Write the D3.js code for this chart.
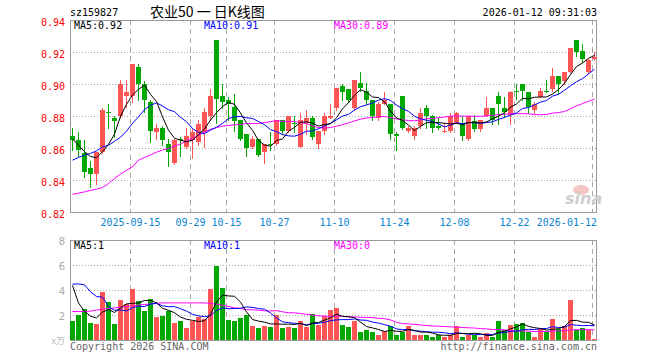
<!DOCTYPE html>
<html><head><meta charset="utf-8">
<script src="https://cdn.jsdelivr.net/npm/d3@7"></script>
<style>body{margin:0;background:#fff}svg{display:block}</style>
</head><body><svg id="c" width="660" height="360"></svg>
<script>
const dates = [
"2025-09-01","2025-09-02","2025-09-03","2025-09-04","2025-09-05","2025-09-08","2025-09-09","2025-09-10","2025-09-11","2025-09-12",
"2025-09-15","2025-09-16","2025-09-17","2025-09-18","2025-09-19","2025-09-22","2025-09-23","2025-09-24","2025-09-25","2025-09-26",
"2025-09-29","2025-09-30","2025-10-09","2025-10-10","2025-10-13","2025-10-14","2025-10-15","2025-10-16","2025-10-17","2025-10-20",
"2025-10-21","2025-10-22","2025-10-23","2025-10-24","2025-10-27","2025-10-28","2025-10-29","2025-10-30","2025-10-31","2025-11-03",
"2025-11-04","2025-11-05","2025-11-06","2025-11-07","2025-11-10","2025-11-11","2025-11-12","2025-11-13","2025-11-14","2025-11-17",
"2025-11-18","2025-11-19","2025-11-20","2025-11-21","2025-11-24","2025-11-25","2025-11-26","2025-11-27","2025-11-28","2025-12-01",
"2025-12-02","2025-12-03","2025-12-04","2025-12-05","2025-12-08","2025-12-09","2025-12-10","2025-12-11","2025-12-12","2025-12-15",
"2025-12-16","2025-12-17","2025-12-18","2025-12-19","2025-12-22","2025-12-23","2025-12-24","2025-12-25","2025-12-26","2025-12-29",
"2025-12-30","2025-12-31","2026-01-05","2026-01-06","2026-01-07","2026-01-08","2026-01-09","2026-01-12"];
const opens = [
.868,.865,.857,.848,.844,.858,.883,.879,.880,.893,
.893,.911,.900,.889,.870,.873,.863,.851,.866,.861,
.865,.864,.870,.880,.928,.893,.890,.886,.878,.869,
.861,.866,.858,.863,.863,.878,.871,.876,.861,.876,
.879,.863,.871,.879,.885,.899,.897,.885,.901,.896,
.890,.879,.888,.888,.869,.893,.871,.868,.874,.885,
.880,.874,.870,.871,.876,.876,.866,.877,.872,.880,
.885,.893,.885,.881,.896,.900,.895,.884,.892,.896,
.897,.905,.902,.908,.928,.921,.908,.916];
const highs = [
.873,.870,.865,.852,.858,.885,.888,.880,.903,.903,
.913,.913,.902,.890,.875,.874,.866,.866,.867,.873,
.872,.878,.885,.897,.928,.900,.892,.894,.878,.869,
.868,.866,.863,.870,.878,.878,.880,.880,.882,.884,
.880,.871,.882,.888,.898,.900,.897,.903,.908,.901,
.890,.889,.895,.888,.870,.893,.874,.874,.885,.887,
.881,.879,.876,.882,.883,.880,.880,.881,.878,.892,
.885,.895,.892,.896,.900,.900,.895,.889,.898,.903,
.910,.905,.908,.923,.928,.925,.916,.920];
const lows = [
.859,.855,.842,.836,.838,.857,.873,.867,.879,.886,
.889,.890,.883,.864,.866,.862,.849,.850,.855,.860,
.854,.862,.861,.878,.876,.885,.878,.871,.865,.855,
.860,.855,.851,.859,.862,.869,.870,.870,.861,.869,
.866,.860,.869,.879,.884,.890,.889,.884,.896,.888,
.878,.878,.888,.866,.859,.872,.870,.866,.873,.873,
.870,.872,.870,.870,.876,.865,.865,.871,.871,.880,
.875,.875,.880,.875,.891,.890,.882,.882,.892,.895,
.896,.894,.900,.907,.918,.914,.907,.915];
const closes = [
.865,.859,.845,.844,.858,.884,.882,.877,.900,.895,
.913,.900,.890,.871,.873,.865,.858,.865,.865,.868,
.870,.875,.883,.893,.891,.889,.888,.877,.866,.860,
.866,.856,.863,.862,.878,.871,.880,.875,.878,.879,
.867,.871,.880,.880,.898,.895,.890,.903,.898,.890,
.880,.888,.890,.869,.868,.873,.873,.873,.882,.880,
.873,.873,.871,.880,.882,.868,.880,.872,.878,.885,
.878,.888,.883,.895,.895,.896,.886,.888,.896,.895,
.905,.900,.908,.923,.920,.916,.915,.917];
const volumes = [
1.60,2.08,2.56,1.44,1.36,3.92,3.12,1.36,3.28,2.96,
4.16,3.20,2.40,3.36,1.92,2.00,2.40,1.44,1.60,1.04,
1.60,1.92,1.76,4.16,6.00,4.24,1.68,1.60,1.84,2.08,
1.20,1.04,1.20,1.12,2.08,1.04,1.12,1.04,1.60,1.12,
2.16,1.28,2.00,2.48,2.64,1.28,1.12,1.60,0.72,0.88,
0.72,0.48,0.80,1.20,0.48,0.72,1.20,0.48,0.48,0.48,
0.32,0.48,0.32,0.48,1.20,0.32,0.40,0.48,0.28,0.56,
0.32,1.60,0.88,1.28,1.36,1.44,0.72,0.32,0.96,0.72,
1.76,0.96,1.20,3.28,0.88,1.04,0.88,0.16];
const ma5Lead = [.866,.862,.858,.855];
const ma10Lead = [.8527,.8544,.8558,.8569,.8585,.861,.862,.8645,.867];
const ma30Lead = [.8313,.8321,.8329,.8338,.8346,.8356,.8381,.8413,.844,.8465,
  .8485,.8527,.8544,.856,.8577,.859,.860,.8615,.8627,.8648,
  .8663,.8683,.8704,.872,.873,.874,.8744,.8748,.875];
const vma5Lead = [4.4,3.0,2.35,1.95];
const vma10Lead = [4.5,4.53,4.45,3.9,3.52,3.47,2.7,2.42,2.45];
const vma30Lead = [2.32,2.32,2.32,2.35,2.43,2.51,2.56,2.61,2.67,2.72,
  2.77,2.83,2.88,2.93,2.99,3.01,3.01,3.01,3.01,3.01,
  3.01,3.01,3.01,2.96,2.91,2.83,2.72,2.61,2.56];
const priceTicks = [0.94,0.92,0.90,0.88,0.86,0.84,0.82];
const volTicks = [8,6,4,2];
const tickDates = ["2025-09-15","2025-09-29","2025-10-15","2025-10-27","2025-11-10","2025-11-24","2025-12-08","2025-12-22","2026-01-12"];
const tickLabels = ["2025-09-15","09-29","10-15","10-27","11-10","11-24","12-08","12-22","2026-01-12"];

const RED = "#ff5555", GREEN = "#00a800", GRID = "#a8a8a8", FRAME = "#999";
const MONO = "'DejaVu Sans Mono', 'Liberation Mono', monospace";
const svg = d3.select("#c");
const L = 70, R = 597;
const x = d3.scaleBand().domain(d3.range(dates.length)).range([69.5, 597.5]).paddingInner(1/6).paddingOuter(1/12);
const cx = i => x(i) + 2.5;
const y = d3.scaleLinear().domain([0.82, 0.94]).range([212.5, 20.5]);
const yv = d3.scaleLinear().domain([0, 8]).range([340.5, 240.5]);

function movingAvg(vals, n, lead) {
  return vals.map((v, i) => i < n - 1 ? lead[i] : d3.mean(vals.slice(i - n + 1, i + 1)));
}
const up = i => closes[i] >= opens[i];

// header
svg.append("text").attr("x", 70).attr("y", 16).attr("font-family", MONO).attr("font-size", 10).attr("fill", "#000").text("sz159827");
svg.append("text").attr("x", 150).attr("y", 17).attr("font-family", "'Noto Sans CJK SC', sans-serif").attr("font-size", 14).attr("fill", "#000").text("农业50 一 日K线图");
svg.append("text").attr("x", 597).attr("y", 16).attr("text-anchor", "end").attr("font-family", MONO).attr("font-size", 10).attr("fill", "#000").text("2026-01-12 09:31:03");

// grids
const g = svg.append("g").attr("shape-rendering", "crispEdges");
priceTicks.slice(1, -1).forEach(t => {
  g.append("line").attr("x1", L).attr("x2", R).attr("y1", y(t)).attr("y2", y(t)).attr("stroke", GRID).attr("stroke-dasharray", "1,2");
});
[2, 4, 6].forEach(t => {
  g.append("line").attr("x1", L).attr("x2", R).attr("y1", yv(t)).attr("y2", yv(t)).attr("stroke", GRID).attr("stroke-dasharray", "1,2");
});
tickDates.forEach(d => {
  const i = dates.indexOf(d);
  const xx = x(i) + 0.5;
  [[20, 212], [240, 340]].forEach(([a, b]) => {
    g.append("line").attr("x1", xx).attr("x2", xx).attr("y1", a).attr("y2", b).attr("stroke", GRID).attr("stroke-dasharray", "5,4");
  });
});

// frames
g.append("rect").attr("x", 70.5).attr("y", 20.5).attr("width", 526).attr("height", 192).attr("fill", "none").attr("stroke", FRAME);
g.append("rect").attr("x", 70.5).attr("y", 240.5).attr("width", 526).attr("height", 100).attr("fill", "none").attr("stroke", FRAME);

// watermark
svg.append("ellipse").attr("cx", 581).attr("cy", 190).attr("rx", 8).attr("ry", 5).attr("fill", "#f2b8b8").attr("opacity", 0.8);
svg.append("text").attr("x", 565).attr("y", 204).attr("font-family", "'DejaVu Sans', sans-serif").attr("font-size", 16).attr("font-weight", "bold").attr("font-style", "italic").attr("fill", "#cfcfcf").text("sina");

// price labels
priceTicks.forEach(t => {
  svg.append("text").attr("x", 65).attr("y", y(t) + 5).attr("text-anchor", "end").attr("font-family", MONO).attr("font-size", 10).attr("fill", "#f00").text(t.toFixed(2));
});
// x labels
tickDates.forEach((d, k) => {
  const i = dates.indexOf(d);
  const lab = tickLabels[k];
  const w = lab.length * 6.02;
  let xx = x(i) + 0.5;
  let anchor = "middle";
  if (xx + w / 2 > R) { xx = R; anchor = "end"; }
  svg.append("text").attr("x", xx).attr("y", 226).attr("text-anchor", anchor).attr("font-family", MONO).attr("font-size", 10).attr("fill", "#0a84d2").text(lab);
});
// volume labels
volTicks.forEach(t => {
  svg.append("text").attr("x", 65).attr("y", yv(t) + 4).attr("text-anchor", "end").attr("font-family", "'DejaVu Sans', sans-serif").attr("font-size", 10).attr("fill", "#aaa").text(t);
});
svg.append("text").attr("x", 65).attr("y", 344).attr("text-anchor", "end").attr("font-family", "'Noto Sans CJK SC', sans-serif").attr("font-size", 9).attr("fill", "#bbb").text("x万");

// candles
const cg = svg.append("g").attr("shape-rendering", "crispEdges");
dates.forEach((d, i) => {
  const col = up(i) ? RED : GREEN;
  cg.append("line").attr("x1", cx(i)).attr("x2", cx(i)).attr("y1", Math.round(y(highs[i])) ).attr("y2", Math.round(y(lows[i])) + 1).attr("stroke", col);
  const top = Math.round(y(Math.max(opens[i], closes[i])));
  const bot = Math.round(y(Math.min(opens[i], closes[i])));
  cg.append("rect").attr("x", x(i)).attr("y", top).attr("width", x.bandwidth()).attr("height", Math.max(1, bot - top)).attr("fill", col);
  // volume
  const vt = Math.round(yv(volumes[i]));
  cg.append("rect").attr("x", x(i)).attr("y", vt).attr("width", x.bandwidth()).attr("height", Math.max(0, 340 - vt)).attr("fill", col);
});

// MA lines
function drawLine(vals, yscale, color) {
  const line = d3.line().x((v, i) => cx(i)).y(v => yscale(v));
  svg.append("path").datum(vals).attr("d", line).attr("fill", "none").attr("stroke", color).attr("stroke-width", 1);
}
drawLine(movingAvg(closes, 30, ma30Lead), y, "#ff00ff");
drawLine(movingAvg(closes, 10, ma10Lead), y, "#0000ff");
drawLine(movingAvg(closes, 5, ma5Lead), y, "#000");
drawLine(movingAvg(volumes, 30, vma30Lead), yv, "#ff00ff");
drawLine(movingAvg(volumes, 10, vma10Lead), yv, "#0000ff");
drawLine(movingAvg(volumes, 5, vma5Lead), yv, "#000");

// MA legends
const leg = [["MA5:0.92", 74, "#000"], ["MA10:0.91", 204, "#0000ff"], ["MA30:0.89", 334, "#ff00ff"]];
leg.forEach(([t, xx, c]) => svg.append("text").attr("x", xx).attr("y", 29).attr("font-family", MONO).attr("font-size", 10).attr("fill", c).text(t));
const vleg = [["MA5:1", 74, "#000"], ["MA10:1", 204, "#0000ff"], ["MA30:0", 334, "#ff00ff"]];
vleg.forEach(([t, xx, c]) => svg.append("text").attr("x", xx).attr("y", 249).attr("font-family", MONO).attr("font-size", 10).attr("fill", c).text(t));

// footer
svg.append("text").attr("x", 70).attr("y", 350).attr("font-family", MONO).attr("font-size", 10).attr("fill", "#666").text("Copyright 2026 SINA.COM");
svg.append("text").attr("x", 597).attr("y", 350).attr("text-anchor", "end").attr("font-family", MONO).attr("font-size", 10).attr("fill", "#666").text("http://finance.sina.com.cn");
</script>
</body></html>
